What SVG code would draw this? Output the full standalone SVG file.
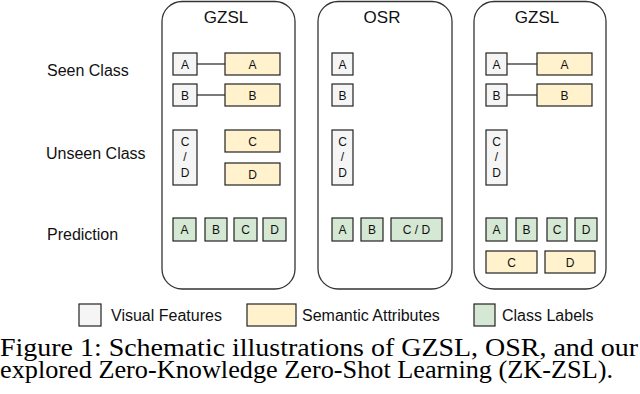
<svg xmlns="http://www.w3.org/2000/svg" width="640" height="394" viewBox="0 0 640 394">
<style>
.panel{fill:#fff;stroke:#333;stroke-width:1.3}
.vf{fill:#f5f5f5;stroke:#222;stroke-width:1.2}
.sa{fill:#fff2cc;stroke:#222;stroke-width:1.2}
.cl{fill:#d5e8d4;stroke:#222;stroke-width:1.2}
.bt{font-family:"Liberation Sans",Arial,sans-serif;font-size:12px;fill:#111;text-anchor:middle}
.title{font-family:"Liberation Sans",Arial,sans-serif;font-size:17px;fill:#111;text-anchor:middle}
.lab{font-family:"Liberation Sans",Arial,sans-serif;font-size:16px;fill:#111}
.cap{font-family:"Liberation Serif","Times New Roman",serif;font-size:25px;fill:#000}
.conn{stroke:#222;stroke-width:1.2;fill:none}
</style>
<rect width="640" height="394" fill="#fff"/>
<g id="row-labels">
<text class="lab" x="47" y="76">Seen Class</text>
<text class="lab" x="46" y="159">Unseen Class</text>
<text class="lab" x="47" y="240">Prediction</text>
</g>
<g id="panel-gzsl-1">
<rect class="panel" x="162" y="1.5" width="133" height="287.5" rx="20"/>
<text class="title" x="226" y="23">GZSL</text>
<rect class="vf" x="173" y="53" width="24" height="22"/><text class="bt" x="185" y="68.5">A</text>
<rect class="sa" x="225" y="53" width="55" height="22"/><text class="bt" x="252.5" y="68.5">A</text>
<rect class="vf" x="173" y="84" width="24" height="22"/><text class="bt" x="185" y="99.5">B</text>
<rect class="sa" x="225" y="84" width="55" height="22"/><text class="bt" x="252.5" y="99.5">B</text>
<rect class="vf" x="173" y="130" width="24" height="55"/>
<text class="bt" x="185" y="146">C</text><text class="bt" x="185" y="161">/</text><text class="bt" x="185" y="177">D</text>
<rect class="sa" x="225" y="130" width="55" height="22"/><text class="bt" x="252.5" y="145.5">C</text>
<rect class="sa" x="225" y="163" width="55" height="22"/><text class="bt" x="252.5" y="178.5">D</text>
<rect class="cl" x="173" y="218" width="23" height="23"/><text class="bt" x="184.5" y="234">A</text>
<rect class="cl" x="205" y="218" width="22" height="23"/><text class="bt" x="216" y="234">B</text>
<rect class="cl" x="234" y="218" width="23" height="23"/><text class="bt" x="245.5" y="234">C</text>
<rect class="cl" x="263" y="218" width="23" height="23"/><text class="bt" x="274.5" y="234">D</text>
</g>
<g id="panel-osr">
<rect class="panel" x="318" y="1.5" width="134" height="287.5" rx="20"/>
<text class="title" x="382" y="23">OSR</text>
<rect class="vf" x="332" y="53" width="21" height="22"/><text class="bt" x="342.5" y="68.5">A</text>
<rect class="vf" x="332" y="84" width="21" height="22"/><text class="bt" x="342.5" y="99.5">B</text>
<rect class="vf" x="332" y="130" width="21" height="55"/>
<text class="bt" x="342.5" y="146">C</text><text class="bt" x="342.5" y="161">/</text><text class="bt" x="342.5" y="177">D</text>
<rect class="cl" x="332" y="218" width="21" height="23"/><text class="bt" x="342.5" y="234">A</text>
<rect class="cl" x="361" y="218" width="22" height="23"/><text class="bt" x="372" y="234">B</text>
<rect class="cl" x="391" y="218" width="51" height="23"/><text class="bt" x="416.5" y="234">C / D</text>
</g>
<g id="panel-gzsl-2">
<rect class="panel" x="474" y="1.5" width="132" height="287.5" rx="20"/>
<text class="title" x="537" y="23">GZSL</text>
<rect class="vf" x="486" y="53" width="21" height="22"/><text class="bt" x="496.5" y="68.5">A</text>
<rect class="sa" x="537" y="53" width="55" height="22"/><text class="bt" x="564.5" y="68.5">A</text>
<rect class="vf" x="486" y="84" width="21" height="22"/><text class="bt" x="496.5" y="99.5">B</text>
<rect class="sa" x="537" y="84" width="55" height="22"/><text class="bt" x="564.5" y="99.5">B</text>
<rect class="vf" x="486" y="130" width="21" height="55"/>
<text class="bt" x="496.5" y="146">C</text><text class="bt" x="496.5" y="161">/</text><text class="bt" x="496.5" y="177">D</text>
<rect class="cl" x="486" y="218" width="21" height="23"/><text class="bt" x="496.5" y="234">A</text>
<rect class="cl" x="516" y="218" width="21" height="23"/><text class="bt" x="526.5" y="234">B</text>
<rect class="cl" x="547" y="218" width="20" height="23"/><text class="bt" x="557" y="234">C</text>
<rect class="cl" x="575" y="218" width="22" height="23"/><text class="bt" x="586" y="234">D</text>
<rect class="sa" x="486" y="251" width="51" height="22"/><text class="bt" x="511.5" y="266.5">C</text>
<rect class="sa" x="545" y="251" width="50" height="22"/><text class="bt" x="570" y="266.5">D</text>
</g>
<g id="connectors">
<line class="conn" x1="197" y1="64" x2="225" y2="64"/>
<line class="conn" x1="197" y1="95" x2="225" y2="95"/>
<line class="conn" x1="507" y1="64" x2="537" y2="64"/>
<line class="conn" x1="507" y1="95" x2="537" y2="95"/>
</g>
<g id="legend">
<rect class="vf" x="79" y="304" width="22" height="22"/>
<text class="lab" x="111" y="321">Visual Features</text>
<rect class="sa" x="247" y="304" width="49" height="22"/>
<text class="lab" x="302" y="321">Semantic Attributes</text>
<rect class="cl" x="474" y="304" width="21" height="22"/>
<text class="lab" x="502" y="321">Class Labels</text>
</g>
<g id="caption">
<text class="cap" x="0" y="356" textLength="638" lengthAdjust="spacingAndGlyphs">Figure 1: Schematic illustrations of GZSL, OSR, and our</text>
<text class="cap" x="0" y="378" textLength="613" lengthAdjust="spacingAndGlyphs">explored Zero-Knowledge Zero-Shot Learning (ZK-ZSL).</text>
</g>
</svg>
